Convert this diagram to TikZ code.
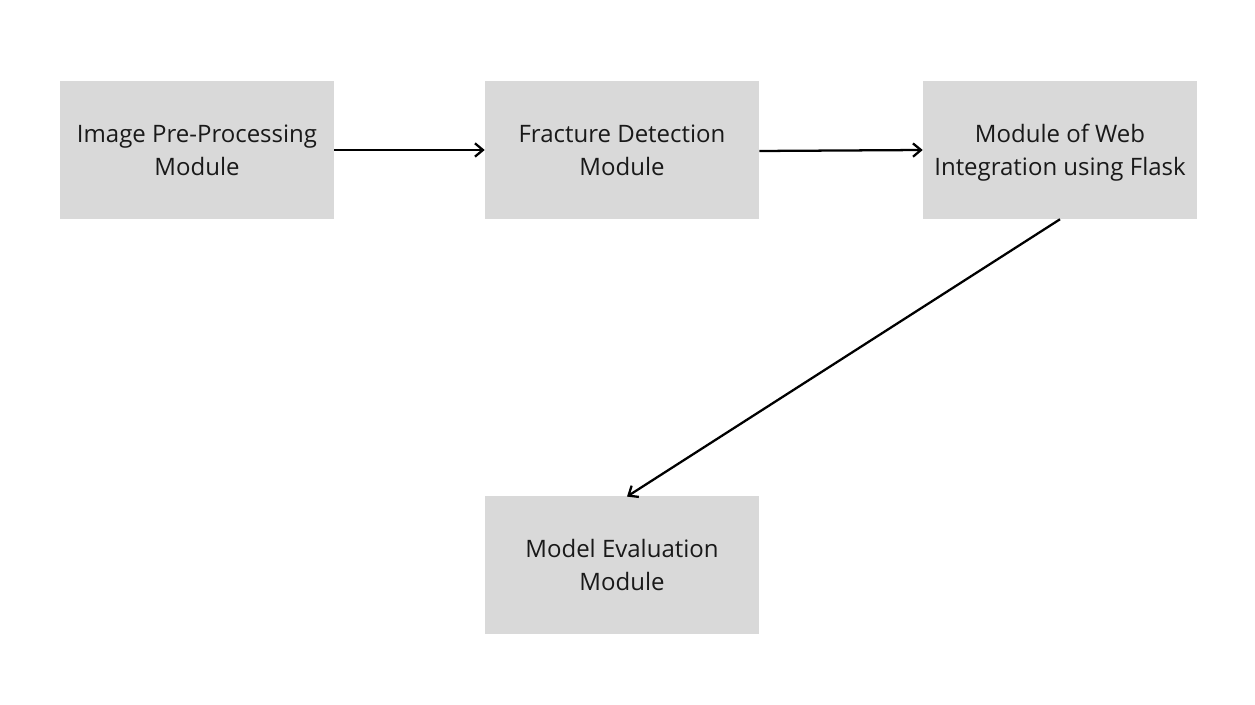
\documentclass[tikz,border=0pt]{standalone}
\usepackage{fontspec}
\setmainfont{Open Sans}
\usetikzlibrary{arrows.meta}
\definecolor{boxgray}{HTML}{D9D9D9}
\tikzset{
  modbox/.style={fill=boxgray, draw=none, minimum width=274*0.75pt, minimum height=138*0.75pt, inner sep=0pt, align=center, font=\fontsize{18pt}{24.75pt}\selectfont, text=black!90},
  conn/.style={line width=1.7pt, -{Straight Barb[length=6pt,width=10pt,line width=1.7pt]}}
}
\begin{document}
\begin{tikzpicture}[x=0.75pt,y=-0.75pt]
\useasboundingbox (0,0) rectangle (1255,705);
\node[modbox] (n1) at (197,150) {Image Pre-Processing\\Module};
\node[modbox] (n2) at (622,150) {Fracture Detection\\Module};
\node[modbox] (n3) at (1060,150) {\rule{0pt}{18pt}Module of Web\\Integration using Flask};
\node[modbox] (n4) at (622,564.5) {Model Evaluation\\Module};
\draw[conn] (n1.east) -- (n2.west);
\draw[conn] ([yshift=-0.75pt]n2.east) -- ([yshift=0pt]n3.west);
\draw[conn] (n3.south) -- ([xshift=3.75pt,yshift=-1pt]n4.north);
\end{tikzpicture}
\end{document}
